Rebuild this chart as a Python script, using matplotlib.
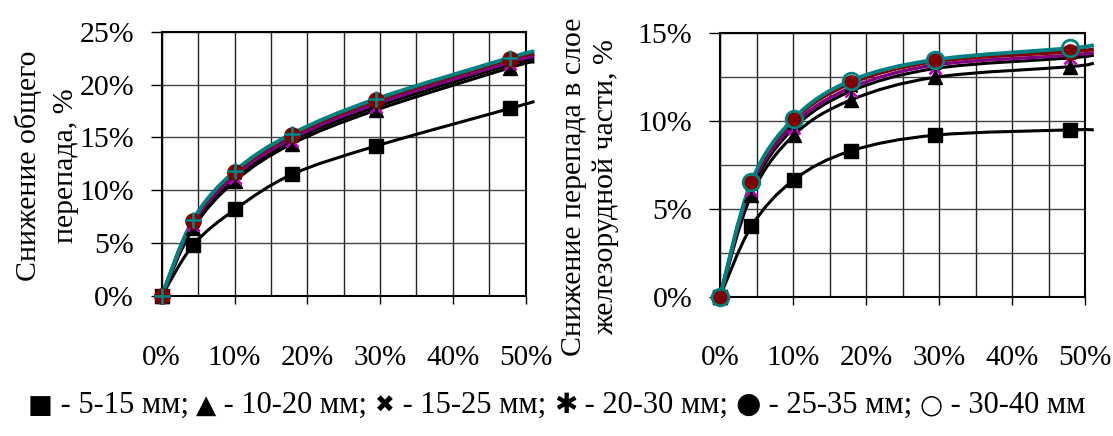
import matplotlib
matplotlib.use("Agg")
import matplotlib.pyplot as plt
from matplotlib.path import Path
from matplotlib.patches import PathPatch
from matplotlib.ticker import MultipleLocator, FuncFormatter
from matplotlib.offsetbox import TextArea, HPacker, AnchoredOffsetbox

# ---------------- data ----------------
x_pts = [0.0, 0.043, 0.101, 0.179, 0.295, 0.479]
x_end = 0.512  # where the drawn lines leave the plot area

labels = ["5-15 мм", "10-20 мм", "15-25 мм", "20-30 мм", "25-35 мм", "30-40 мм"]
legend_symbols = ["■", "▲", "✖", "✱", "●", "○"]

# Left chart: reduction of total pressure drop (fractions)
left_vals = [
    [0.0, 0.048, 0.082, 0.115, 0.142, 0.1775],
    [0.0, 0.064, 0.109, 0.144, 0.176, 0.216],
    [0.0, 0.067, 0.112, 0.147, 0.179, 0.219],
    [0.0, 0.069, 0.114, 0.149, 0.182, 0.221],
    [0.0, 0.071, 0.117, 0.152, 0.185, 0.224],
    [0.0, 0.072, 0.1185, 0.1535, 0.1865, 0.2255],
]
left_end = [0.184, 0.2215, 0.224, 0.2265, 0.229, 0.2315]

# Right chart: reduction of pressure drop in the iron-ore layer (fractions)
right_vals = [
    [0.0, 0.040, 0.0665, 0.083, 0.092, 0.095],
    [0.0, 0.058, 0.092, 0.112, 0.125, 0.131],
    [0.0, 0.061, 0.096, 0.117, 0.130, 0.136],
    [0.0, 0.063, 0.098, 0.119, 0.132, 0.1375],
    [0.0, 0.0645, 0.1005, 0.1215, 0.134, 0.1395],
    [0.0, 0.0655, 0.1015, 0.123, 0.135, 0.1415],
]
right_end = [0.095, 0.133, 0.1375, 0.139, 0.141, 0.1433]

left_ylabel = "Снижение общего\nперепада, %"
right_ylabel = "Снижение перепада в слое\nжелезорудной части, %"

# ---------------- styles ----------------
line_colors = ["black", "black", "black", "#800080", "#800000", "#008080"]
line_widths = [2.2, 2.2, 2.2, 2.4, 2.6, 2.8]

SERIF = ["Liberation Serif", "DejaVu Serif"]
plt.rcParams["font.family"] = SERIF

fig = plt.figure(figsize=(11.13, 4.36), dpi=100)
axL = fig.add_axes([0.1453, 0.3211, 0.3270, 0.6062])
axR = fig.add_axes([0.6469, 0.3195, 0.3280, 0.6040])


def smooth_path(xs, ys):
    pts = list(zip(xs, ys))
    verts = [pts[0]]
    codes = [Path.MOVETO]
    n = len(pts)
    for i in range(n - 1):
        p0 = pts[i - 1] if i > 0 else pts[i]
        p1 = pts[i]
        p2 = pts[i + 1]
        p3 = pts[i + 2] if i + 2 < n else pts[i + 1]
        c1 = (p1[0] + (p2[0] - p0[0]) / 6.0, p1[1] + (p2[1] - p0[1]) / 6.0)
        c2 = (p2[0] - (p3[0] - p1[0]) / 6.0, p2[1] - (p3[1] - p1[1]) / 6.0)
        verts += [c1, c2, p2]
        codes += [Path.CURVE4, Path.CURVE4, Path.CURVE4]
    return Path(verts, codes)


def pct(v, _):
    return f"{v * 100:.0f}%"


def draw(ax, vals, ends, ymax, ymajor, yminor, sixth_marker):
    ax.set_xlim(0, 0.5)
    ax.set_ylim(0, ymax)
    ax.xaxis.set_major_locator(MultipleLocator(0.10))
    ax.xaxis.set_minor_locator(MultipleLocator(0.05))
    ax.yaxis.set_major_locator(MultipleLocator(ymajor))
    ax.yaxis.set_minor_locator(MultipleLocator(yminor))
    ax.xaxis.set_major_formatter(FuncFormatter(pct))
    ax.yaxis.set_major_formatter(FuncFormatter(pct))
    ax.grid(True, which="both", axis="x", color="#222222", lw=1.0, zorder=0)
    ax.grid(True, which="both", axis="y", color="#444444", lw=1.0, zorder=0)
    ax.tick_params(axis="x", which="major", direction="out", length=6, width=1,
                   pad=29, labelsize=21)
    ax.tick_params(axis="y", which="major", direction="out", length=8, width=1,
                   pad=12, labelsize=21.5)
    ax.tick_params(which="minor", length=0)
    for s in ax.spines.values():
        s.set_linewidth(1.5)
        s.set_color("black")
    ax.set_axisbelow(True)

    for i in range(6):
        xs = x_pts + [x_end]
        ys = vals[i] + [ends[i]]
        patch = PathPatch(smooth_path(xs, ys), fill=False, edgecolor=line_colors[i],
                          lw=line_widths[i], transform=ax.transData, clip_on=False,
                          zorder=3 + i * 0.1)
        ax.add_patch(patch)

    mk = dict(ls="none", clip_on=False)
    ax.plot(x_pts, vals[0], marker="s", ms=10, color="black", zorder=5.0, **mk)
    ax.plot(x_pts, vals[1], marker="^", ms=10, color="black", zorder=5.1, **mk)
    ax.plot(x_pts, vals[2], marker="x", ms=8, mew=2, color="#c000c0", zorder=5.2, **mk)
    ax.plot(x_pts, vals[3], marker=(6, 2, 0), ms=10, mew=1.5, color="black", zorder=5.3, **mk)
    ax.plot(x_pts, vals[4], marker="o", ms=11, color="#800000", mec="#800000", zorder=5.4, **mk)
    if sixth_marker == "+":
        ax.plot(x_pts, vals[5], marker="+", ms=12, mew=2, color="#008080", zorder=5.5, **mk)
    else:
        ax.plot(x_pts, vals[5], marker="o", ms=12, mfc="none", mec="#008080", mew=2,
                zorder=5.5, **mk)


draw(axL, left_vals, left_end, 0.25, 0.05, 0.05, "+")
draw(axR, right_vals, right_end, 0.15, 0.05, 0.025, "o")

fig.text(47 / 1113, 1 - 166 / 436, left_ylabel, rotation=90, ha="center", va="center",
         multialignment="center", fontsize=21.5, linespacing=1.55)
fig.text(590 / 1113, 1 - 187 / 436, right_ylabel, rotation=90, ha="center", va="center",
         multialignment="center", fontsize=21.5, linespacing=1.3)

# legend line built from symbol + text pieces
sym_sizes = [19, 19, 17, 20, 21, 19]
pieces = []
for i, (sym, lab) in enumerate(zip(legend_symbols, labels)):
    pieces.append(TextArea(sym, textprops=dict(fontsize=sym_sizes[i], color="black",
                                               family=["DejaVu Sans"], fontweight="bold")))
    tail = f" - {lab}" + ("; " if i < len(labels) - 1 else "")
    pieces.append(TextArea(tail, textprops=dict(fontsize=22, color="black",
                                                family=SERIF)))
box = HPacker(children=pieces, align="baseline", pad=0, sep=0)
anch = AnchoredOffsetbox(loc="center", child=box, pad=0, borderpad=0, frameon=False,
                         bbox_to_anchor=(0.5, 1 - 405 / 436), bbox_transform=fig.transFigure)
fig.add_artist(anch)

fig.savefig("out.png", dpi=100)
